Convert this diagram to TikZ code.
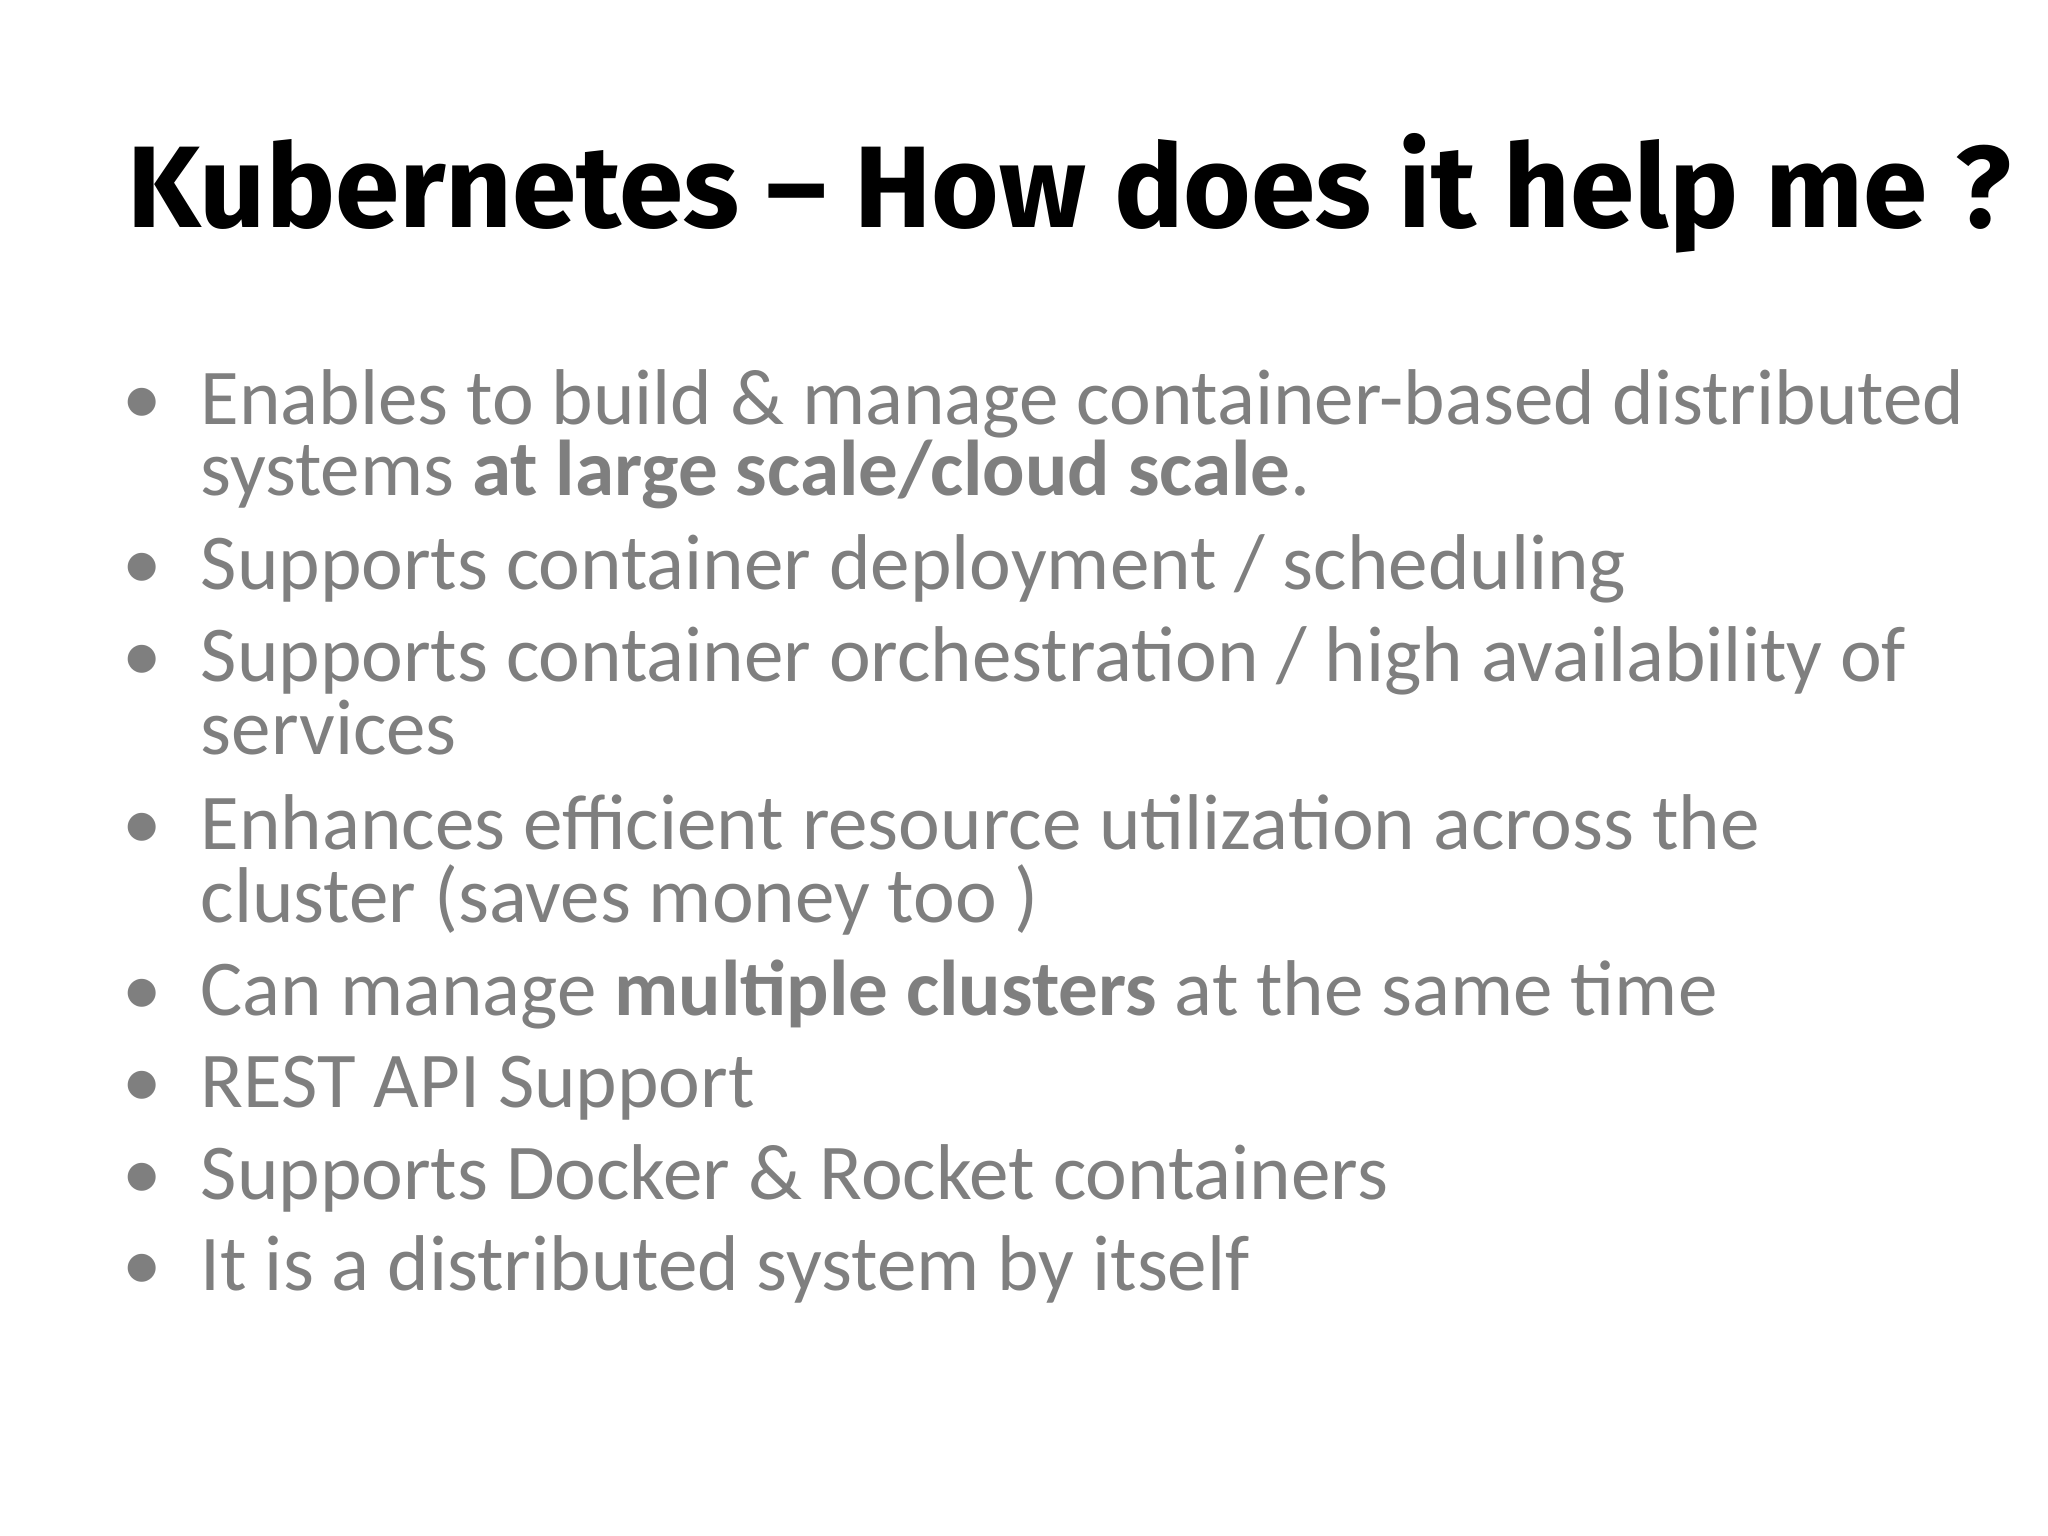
\documentclass[tikz,border=0pt]{standalone}
\usepackage{fontspec}
\setmainfont{Carlito}
\newfontfamily\titlefont{Fira Sans}
\definecolor{bodygray}{RGB}{127,127,127}
\begin{document}
\begin{tikzpicture}[x=1cm,y=1cm,
  line/.style={anchor=base west,inner sep=0pt,text=bodygray,font=\fontsize{22.5}{27}\selectfont},
  bul/.style={anchor=base west,inner sep=0pt,text=bodygray,font=\fontsize{22.5}{27}\selectfont}]
\useasboundingbox (0,0) rectangle (20.48,-15.36);
\node[anchor=base west,inner sep=0pt,font=\titlefont\bfseries\fontsize{33}{40}\selectfont] (title) at (1.27,-2.28) {Kubernetes – How does it help me ?};
\foreach \y/\n in {4.24/b1,5.90/b2,6.82/b3,8.49/b4,10.15/b5,11.07/b6,11.99/b7,12.90/b8}
  \node[bul] (\n) at (1.22,-\y) {•};
\node[line] (l1) at (2.0,-4.24) {Enables to build \& manage container-based distributed};
\node[line] (l2) at (2.0,-4.96) {systems \textbf{at large scale/cloud scale}.};
\node[line] (l3) at (2.0,-5.90) {Supports container deployment / scheduling};
\node[line] (l4) at (2.0,-6.82) {Supports container orchestration / high availability of};
\node[line] (l5) at (2.0,-7.55) {services};
\node[line] (l6) at (2.0,-8.49) {Enhances efficient resource utilization across the};
\node[line] (l7) at (2.0,-9.22) {cluster (saves money too )};
\node[line] (l8) at (2.0,-10.15) {Can manage \textbf{multiple clusters} at the same time};
\node[line] (l9) at (2.0,-11.07) {REST API Support};
\node[line] (l10) at (2.0,-11.99) {Supports Docker \& Rocket containers};
\node[line] (l11) at (2.0,-12.90) {It is a distributed system by itself};
\end{tikzpicture}
\end{document}
